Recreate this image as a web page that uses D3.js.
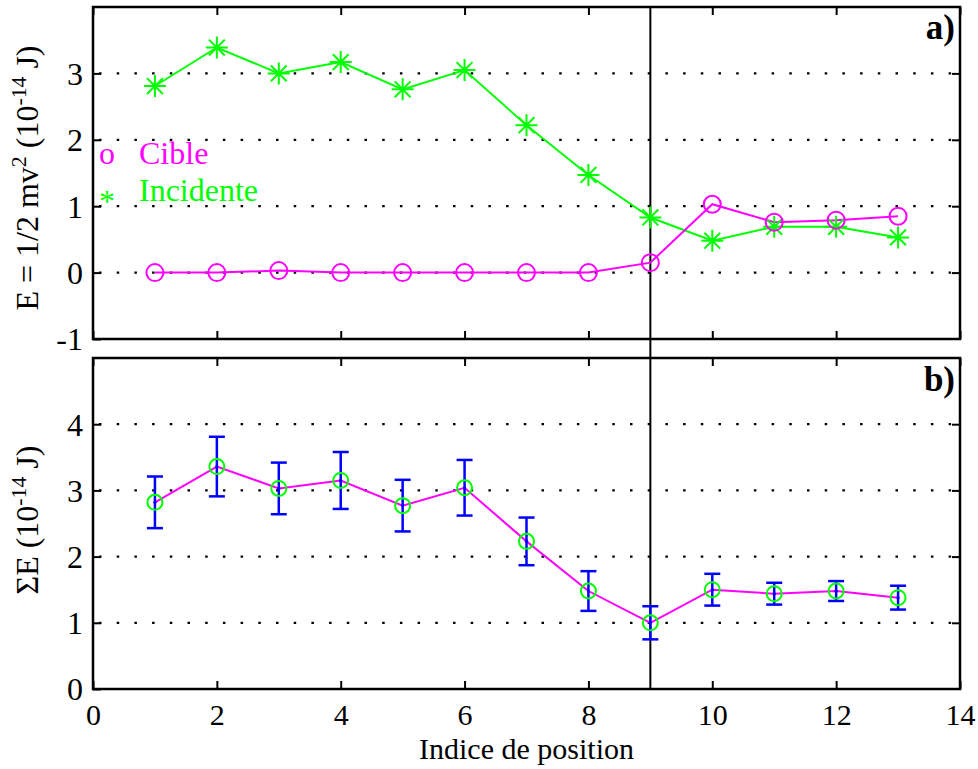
<!DOCTYPE html>
<html>
<head>
<meta charset="utf-8">
<script src="https://cdn.jsdelivr.net/npm/d3@7"></script>
<style>
  body { margin: 0; background: #fff; }
  svg { display: block; }
  text { font-family: "Liberation Serif", "Times New Roman", Times, "DejaVu Serif", "Noto Serif", serif; }
</style>
</head>
<body>
<svg id="chart" width="978" height="769"></svg>
<script>
// ---- Data ----
const positions = [1, 2, 3, 4, 5, 6, 7, 8, 9, 10, 11, 12, 13];
const incidente = [2.81, 3.39, 3.00, 3.17, 2.76, 3.05, 2.22, 1.47, 0.83, 0.48, 0.69, 0.69, 0.53];
const cible     = [0.00, 0.00, 0.03, 0.00, 0.00, 0.00, 0.00, 0.00, 0.15, 1.03, 0.76, 0.79, 0.85];
const sumE      = [2.82, 3.36, 3.03, 3.15, 2.77, 3.04, 2.23, 1.48, 1.00, 1.50, 1.44, 1.48, 1.38];
const sumErr    = [0.39, 0.45, 0.39, 0.43, 0.39, 0.42, 0.36, 0.30, 0.25, 0.24, 0.165, 0.15, 0.18];
const xTicks = [0, 2, 4, 6, 8, 10, 12, 14];
const yTicksA = [-1, 0, 1, 2, 3];
const yGridA = [0, 1, 2, 3];
const yTicksB = [0, 1, 2, 3, 4];
const yGridB = [1, 2, 3, 4];

// ---- Layout ----
const svg = d3.select("#chart");
svg.append("rect").attr("width", 978).attr("height", 769).attr("fill", "#fff");
const L = 93, R = 960;
const panelA = { top: 7, bottom: 339 };
const panelB = { top: 358, bottom: 689 };

const x = d3.scaleLinear().domain([0, 14]).range([L, R]);
const yA = d3.scaleLinear().domain([-1, 4]).range([panelA.bottom, panelA.top]);
const yB = d3.scaleLinear().domain([0, 5]).range([panelB.bottom, panelB.top]);

const GREEN = "#00ff00", MAGENTA = "#ff00ff", BLUE = "#0000ff";
const FONT = '"Liberation Serif", "Times New Roman", Times, "DejaVu Serif", "Noto Serif", serif';
const FS = 32;

function drawPanel(p, y, gridVals, tickVals, showX) {
  const g = svg.append("g");
  g.selectAll(".grid").data(gridVals).enter().append("line")
    .attr("x1", L).attr("x2", R)
    .attr("y1", d => y(d)).attr("y2", d => y(d))
    .attr("stroke", "#000").attr("stroke-width", 2.2)
    .attr("stroke-dasharray", "2.5,15.2").attr("stroke-dashoffset", -6);
  const ax = g.append("g").attr("class", "axes");
  const tl = 8;
  const fmt = d => String(d);
  const bottomAxis = d3.axisBottom(x).tickValues(xTicks).tickSizeInner(-tl).tickSizeOuter(0)
    .tickFormat(showX ? fmt : () => "");
  const topAxis = d3.axisTop(x).tickValues(xTicks).tickSizeInner(-tl).tickSizeOuter(0).tickFormat(() => "");
  const leftAxis = d3.axisLeft(y).tickValues(tickVals).tickSizeInner(-tl).tickSizeOuter(0).tickFormat(fmt);
  const rightAxis = d3.axisRight(y).tickValues(gridVals).tickSizeInner(-tl).tickSizeOuter(0).tickFormat(() => "");
  const gb = ax.append("g").attr("transform", `translate(0,${p.bottom})`).call(bottomAxis);
  ax.append("g").attr("transform", `translate(0,${p.top})`).call(topAxis);
  const gl = ax.append("g").attr("transform", `translate(${L},0)`).call(leftAxis);
  ax.append("g").attr("transform", `translate(${R},0)`).call(rightAxis);
  ax.selectAll("g").attr("font-family", null);
  ax.selectAll(".domain").remove();
  ax.selectAll(".tick line").attr("stroke", "#000").attr("stroke-width", 2);
  ax.selectAll(".tick text").style("font-family", FONT).attr("font-size", FS).attr("fill", "#000");
  gl.selectAll(".tick text").attr("x", -10).attr("dy", "0.34em");
  gb.selectAll(".tick text").attr("font-size", 30).attr("y", 36).attr("dy", 0);
  g.append("rect").attr("x", L).attr("y", p.top).attr("width", R - L).attr("height", p.bottom - p.top)
    .attr("fill", "none").attr("stroke", "#000").attr("stroke-width", 2.5);
  return g;
}

drawPanel(panelA, yA, yGridA, yTicksA, false);
drawPanel(panelB, yB, yGridB, yTicksB, true);

svg.append("line").attr("x1", x(9)).attr("x2", x(9)).attr("y1", panelA.top).attr("y2", panelB.bottom)
  .attr("stroke", "#000").attr("stroke-width", 2);

// ---- Panel a ----
const line = yScale => d3.line().x((d, i) => x(positions[i])).y(d => yScale(d));

const gA = svg.append("g");
gA.append("path").datum(incidente).attr("d", line(yA)).attr("fill", "none").attr("stroke", GREEN).attr("stroke-width", 2);
gA.append("path").datum(cible).attr("d", line(yA)).attr("fill", "none").attr("stroke", MAGENTA).attr("stroke-width", 2);

const starPath = (r) => {
  const d = r * 0.72;
  return `M${-r},0L${r},0M0,${-r}L0,${r}M${-d},${-d}L${d},${d}M${-d},${d}L${d},${-d}`;
};
gA.selectAll(".star").data(incidente).enter().append("path")
  .attr("transform", (d, i) => `translate(${x(positions[i])},${yA(d)})`)
  .attr("d", starPath(11)).attr("stroke", GREEN).attr("stroke-width", 2).attr("fill", "none");
gA.selectAll(".circ").data(cible).enter().append("circle")
  .attr("cx", (d, i) => x(positions[i])).attr("cy", d => yA(d)).attr("r", 8.5)
  .attr("fill", "none").attr("stroke", MAGENTA).attr("stroke-width", 2);

// legend (text)
const T = (xx, yy, s, col, size) => svg.append("text").attr("x", xx).attr("y", yy)
  .style("font-family", FONT).attr("font-size", size || FS).attr("fill", col || "#000").text(s);
T(99, 164, "o", MAGENTA);
T(139, 164, "Cible", MAGENTA);
T(99, 212, "*", GREEN);
T(139, 201, "Incidente", GREEN);

T(955, 39, "a)", "#000", 35).attr("text-anchor", "end").attr("font-weight", "bold");
T(955, 391, "b)", "#000", 35).attr("text-anchor", "end").attr("font-weight", "bold");

// ---- Panel b ----
const gB = svg.append("g");
gB.append("path").datum(sumE).attr("d", line(yB)).attr("fill", "none").attr("stroke", MAGENTA).attr("stroke-width", 2);
const eb = gB.selectAll(".eb").data(sumE).enter().append("g")
  .attr("transform", (d, i) => `translate(${x(positions[i])},0)`);
eb.append("line").attr("x1", 0).attr("x2", 0)
  .attr("y1", (d, i) => yB(d + sumErr[i])).attr("y2", (d, i) => yB(d - sumErr[i]))
  .attr("stroke", BLUE).attr("stroke-width", 2.5);
eb.append("line").attr("x1", -8).attr("x2", 8)
  .attr("y1", (d, i) => yB(d + sumErr[i])).attr("y2", (d, i) => yB(d + sumErr[i]))
  .attr("stroke", BLUE).attr("stroke-width", 2.5);
eb.append("line").attr("x1", -8).attr("x2", 8)
  .attr("y1", (d, i) => yB(d - sumErr[i])).attr("y2", (d, i) => yB(d - sumErr[i]))
  .attr("stroke", BLUE).attr("stroke-width", 2.5);
eb.append("circle").attr("cx", 0).attr("cy", d => yB(d)).attr("r", 7.5)
  .attr("fill", "none").attr("stroke", GREEN).attr("stroke-width", 2);
eb.append("circle").attr("cx", 0).attr("cy", d => yB(d)).attr("r", 1.6).attr("fill", BLUE);

// ---- Axis labels ----
T((L + R) / 2, 759, "Indice de position", "#000", 30).attr("text-anchor", "middle");

function supLabel(cx, cy, parts) {
  const t = svg.append("text").attr("transform", `translate(${cx},${cy}) rotate(-90)`)
    .attr("text-anchor", "middle").style("font-family", FONT).attr("font-size", FS);
  parts.forEach(p => {
    const s = t.append("tspan").text(p.t);
    if (p.sup) s.attr("font-size", FS * 0.68).attr("dy", -12);
    else if (p.after) s.attr("dy", 12);
  });
  return t;
}
supLabel(38, 178, [
  { t: "E = 1/2 mv" }, { t: "2", sup: true }, { t: " (10", after: true },
  { t: "-14", sup: true }, { t: " J)", after: true }
]);
supLabel(38, 520, [
  { t: "ΣE (10" }, { t: "-14", sup: true }, { t: " J)", after: true }
]);
</script>
</body>
</html>
